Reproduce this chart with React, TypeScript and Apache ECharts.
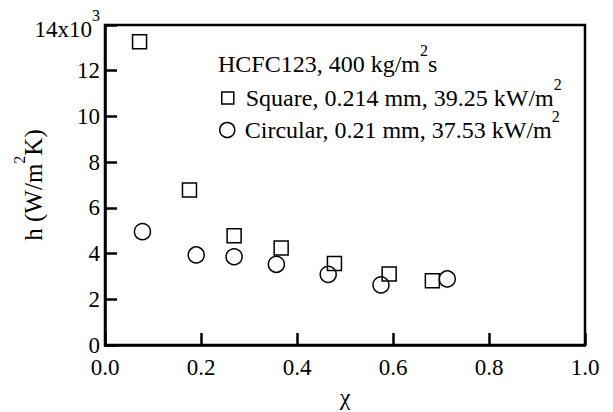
import React, { useEffect, useRef } from "react";
import * as echarts from "echarts";

const squareChi = [0.072, 0.176, 0.269, 0.367, 0.478, 0.592, 0.682];
const squareH = [13270, 6780, 4780, 4240, 3570, 3110, 2810];
const circleChi = [0.078, 0.19, 0.269, 0.357, 0.465, 0.575, 0.713];
const circleH = [4960, 3940, 3860, 3530, 3090, 2630, 2890];

const xTicks = [0, 0.2, 0.4, 0.6, 0.8, 1.0];
const yTicks = [0, 2000, 4000, 6000, 8000, 10000, 12000, 14000];

const FONT = "Liberation Serif";

const axisRich = {
  t: { fontFamily: FONT, fontSize: 23, color: "#000" },
  u: { fontFamily: FONT, fontSize: 23, color: "#000", padding: [8, 0, 0, 0] },
  su: { fontFamily: FONT, fontSize: 16, color: "#000", padding: [8, 0, 28, 0] },
};

const nameRich = {
  t: { fontFamily: FONT, fontSize: 25, color: "#000" },
  s: { fontFamily: FONT, fontSize: 16, color: "#000", padding: [0, 0, 28, 0] },
};

const legRich = {
  t: { fontFamily: FONT, fontSize: 24, color: "#000" },
  s: { fontFamily: FONT, fontSize: 16, color: "#000", padding: [0, 0, 28, 0] },
};

export default function App() {
  const ref = useRef<HTMLDivElement>(null);
  useEffect(() => {
    if (!ref.current) return;
    const chart = echarts.init(ref.current, null, { renderer: "svg" });
    const sq = squareChi.map((x, i) => [x, squareH[i]]);
    const ci = circleChi.map((x, i) => [x, circleH[i]]);
    chart.setOption({
      animation: false,
      backgroundColor: "#fff",
      textStyle: { fontFamily: FONT },
      grid: {
        left: 105,
        right: 28,
        top: 25,
        bottom: 67,
        show: true,
        borderColor: "#000",
        borderWidth: 2.5,
        containLabel: false,
        outerBoundsMode: "none",
      },
      xAxis: {
        type: "value",
        min: xTicks[0],
        max: xTicks[xTicks.length - 1],
        interval: 0.2,
        name: "χ",
        nameLocation: "middle",
        nameGap: 40,
        nameMoveOverlap: false,
        nameTextStyle: { fontFamily: FONT, fontSize: 24, color: "#000" },
        axisLine: { show: true, lineStyle: { color: "#000", width: 2.5 } },
        axisTick: { show: true, inside: true, length: 12, lineStyle: { color: "#000", width: 2.5 } },
        axisLabel: {
          fontFamily: FONT,
          fontSize: 23,
          color: "#000",
          margin: 11,
          formatter: (v: number) => v.toFixed(1),
        },
        splitLine: { show: false },
      },
      yAxis: {
        type: "value",
        min: yTicks[0],
        max: yTicks[yTicks.length - 1],
        interval: 2000,
        name: "{t|h (W/m}{s|2}{t|K)}",
        nameLocation: "middle",
        nameRotate: 90,
        nameGap: 50,
        nameMoveOverlap: false,
        nameTextStyle: { fontFamily: FONT, fontSize: 25, rich: nameRich },
        axisLine: { show: true, lineStyle: { color: "#000", width: 2.5 } },
        axisTick: { show: true, inside: true, length: 12, lineStyle: { color: "#000", width: 2.5 } },
        axisLabel: {
          fontFamily: FONT,
          fontSize: 23,
          color: "#000",
          margin: 5,
          formatter: (v: number) =>
            v === 14000 ? "{u|14x10}{su|3}" : "{t|" + String(v / 1000) + "}",
          rich: axisRich,
        },
        splitLine: { show: false },
      },
      legend: [
        {
          data: ["Square"],
          left: 221,
          top: 76,
          padding: 0,
          itemWidth: 12,
          itemHeight: 12,
          itemStyle: { color: "#fff", borderColor: "#000", borderWidth: 1.5 },
          formatter: () => "{t|Square, 0.214 mm, 39.25 kW/m}{s|2}",
          textStyle: {
            fontFamily: FONT,
            fontSize: 24,
            rich: {
              t: { ...legRich.t, padding: [0, 0, 0, 7] },
              s: legRich.s,
            },
          },
        },
        {
          data: ["Circular"],
          left: 219,
          top: 108,
          padding: 0,
          itemWidth: 15,
          itemHeight: 15,
          itemStyle: { color: "#fff", borderColor: "#000", borderWidth: 1.5 },
          formatter: () => "{t|Circular, 0.21 mm, 37.53 kW/m}{s|2}",
          textStyle: {
            fontFamily: FONT,
            fontSize: 24,
            rich: {
              t: { ...legRich.t, padding: [0, 0, 0, 5] },
              s: legRich.s,
            },
          },
        },
      ],
      graphic: [
        {
          type: "text",
          left: 218,
          top: 42,
          style: {
            text: "{t|HCFC123, 400 kg/m}{s|2}{t|s}",
            fontFamily: FONT,
            fontSize: 24,
            rich: legRich,
          },
        },
      ],
      series: [
        {
          name: "Square",
          type: "scatter",
          symbol: "rect",
          symbolSize: 14,
          data: sq,
          itemStyle: { color: "#fff", borderColor: "#000", borderWidth: 1.5, opacity: 1 },
        },
        {
          name: "Circular",
          type: "scatter",
          symbol: "circle",
          symbolSize: 16,
          data: ci,
          itemStyle: { color: "transparent", borderColor: "#000", borderWidth: 1.5, opacity: 1 },
        },
      ],
    });
    return () => chart.dispose();
  }, []);
  return <div ref={ref} style={{ width: 613, height: 412, position: "absolute", left: 0, top: 0 }} />;
}
